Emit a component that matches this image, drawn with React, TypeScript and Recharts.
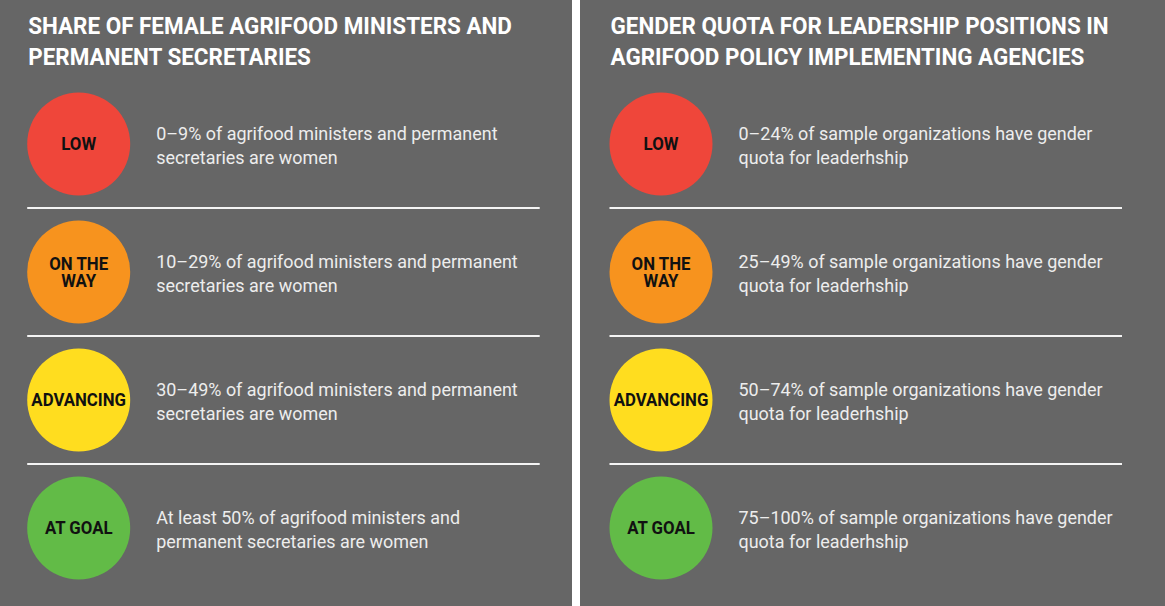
import React from "react";
import { ScatterChart, Scatter, XAxis, YAxis, Customized } from "recharts";

// ---- data ----
const levelIndex = [0, 1, 2, 3];
const levelLabels = [["LOW"], ["ON THE", "WAY"], ["ADVANCING"], ["AT GOAL"]];
const levelColors = ["#EF463A", "#F7931E", "#FFDD1F", "#62BB47"];

const leftTitle = ["SHARE OF FEMALE AGRIFOOD MINISTERS AND", "PERMANENT SECRETARIES"];
const leftDescriptions = [
  ["0–9% of agrifood ministers and permanent", "secretaries are women"],
  ["10–29% of agrifood ministers and permanent", "secretaries are women"],
  ["30–49% of agrifood ministers and permanent", "secretaries are women"],
  ["At least 50% of agrifood ministers and", "permanent secretaries are women"],
];

const rightTitle = ["GENDER QUOTA FOR LEADERSHIP POSITIONS IN", "AGRIFOOD POLICY IMPLEMENTING AGENCIES"];
const rightDescriptions = [
  ["0–24% of sample organizations have gender", "quota for leaderhship"],
  ["25–49% of sample organizations have gender", "quota for leaderhship"],
  ["50–74% of sample organizations have gender", "quota for leaderhship"],
  ["75–100% of sample organizations have gender", "quota for leaderhship"],
];

const FONT = "Roboto, 'Noto Sans', sans-serif";
const BG = "#666666";

function ItemShape(props: any) {
  const { cx, cy, payload } = props;
  const r = 51.5;
  const lab: string[] = payload.label;
  const desc: string[] = payload.desc;
  const labStart = lab.length === 1 ? cy + 6.3 : cy - 2;
  return (
    <g>
      <circle cx={cx} cy={cy} r={r} fill={payload.color} />
      <text
        transform={`translate(${cx},${labStart}) scale(0.96,1)`}
        textAnchor="middle"
        fontFamily={FONT}
        fontWeight={700}
        fontSize={17.5}
        fill="#111"
      >
        {lab.map((t, i) => (
          <tspan key={i} x={0} dy={i === 0 ? 0 : 16.7}>
            {t}
          </tspan>
        ))}
      </text>
      <text
        transform={`translate(${cx + 77.5},${cy - 4}) scale(0.97,1)`}
        fontFamily={FONT}
        fontWeight={400}
        fontSize={18.5}
        fill="#EDEDED"
      >
        {desc.map((t, i) => (
          <tspan key={i} x={0} dy={i === 0 ? 0 : 24.5}>
            {t}
          </tspan>
        ))}
      </text>
      {payload.last ? null : (
        <line x1={cx - 51.5} x2={cx + 461} y1={cy + 64} y2={cy + 64} stroke="#F4F4F4" strokeWidth={2.2} />
      )}
    </g>
  );
}

function Title(props: any) {
  const { lines, x } = props;
  return (
    <text
      transform={`translate(${x},34.3) scale(0.955,1)`}
      fontFamily={FONT}
      fontWeight={700}
      fontSize={23.5}
      fill="#FFFFFF"
    >
      {lines.map((t: string, i: number) => (
        <tspan key={i} x={0} dy={i === 0 ? 0 : 30.7}>
          {t}
        </tspan>
      ))}
    </text>
  );
}

function Panel(props: { width: number; cx: number; title: string[]; descriptions: string[][] }) {
  const { width, cx, title, descriptions } = props;
  const data = levelIndex.map((y, i) => ({
    x: 0,
    y,
    label: levelLabels[i],
    desc: descriptions[i],
    color: levelColors[i],
    last: i === levelIndex.length - 1,
  }));
  return (
    <ScatterChart
      width={width}
      height={606}
      margin={{ top: 144, bottom: 78, left: cx, right: 0 }}
      style={{ background: BG }}
    >
      <XAxis type="number" dataKey="x" domain={[0, 1]} hide />
      <YAxis type="number" dataKey="y" domain={[0, 3]} reversed hide width={0} />
      <Customized component={<Title lines={title} x={cx - 50.5} />} />
      <Scatter data={data} shape={ItemShape} isAnimationActive={false} />
    </ScatterChart>
  );
}

export default function App() {
  return (
    <div style={{ position: "fixed", left: 0, top: 0, width: 1165, height: 606, background: "#FFFFFF" }}>
      <div style={{ position: "absolute", left: 0, top: 0 }}>
        <Panel width={572} cx={78.7} title={leftTitle} descriptions={leftDescriptions} />
      </div>
      <div style={{ position: "absolute", left: 580, top: 0 }}>
        <Panel width={585} cx={81} title={rightTitle} descriptions={rightDescriptions} />
      </div>
    </div>
  );
}
